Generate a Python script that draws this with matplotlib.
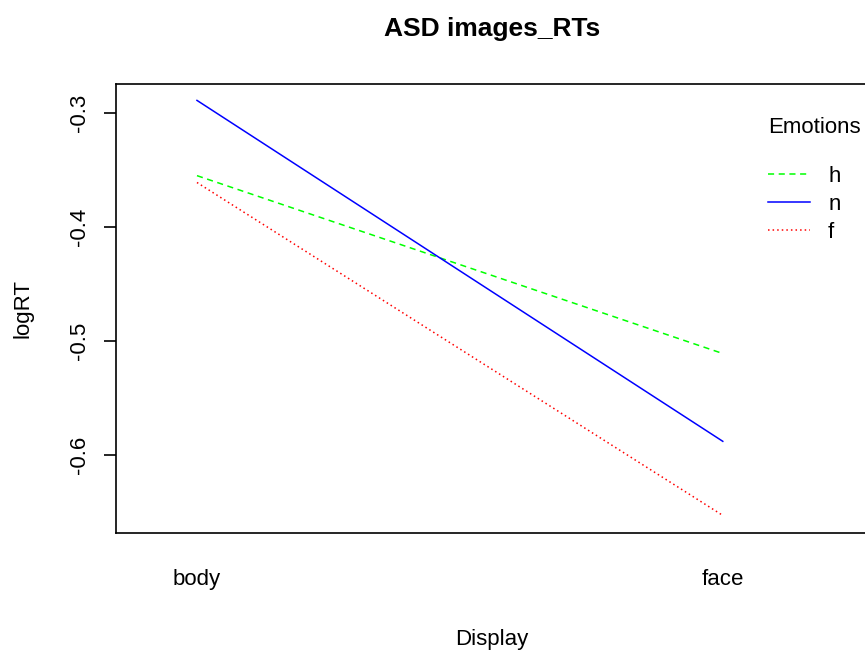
import matplotlib
matplotlib.use('Agg')
import matplotlib.pyplot as plt

plt.rcParams['font.family'] = ['Liberation Sans', 'DejaVu Sans']

# data (mean logRT per display type)
displays = ['body', 'face']
emotions = ['h', 'n', 'f']
logrt_h = [-0.355, -0.511]
logrt_n = [-0.289, -0.588]
logrt_f = [-0.361, -0.653]

colors = {'h': '#00ff00', 'n': '#0000ff', 'f': '#ff0000'}
styles = {'h': (0, (4, 3)), 'n': '-', 'f': (0, (1, 2))}
values = {'h': logrt_h, 'n': logrt_n, 'f': logrt_f}

fig = plt.figure(figsize=(8.65, 6.56), dpi=100)
ax = fig.add_axes([0.1341, 0.1875, 0.8717, 0.6845])

x = [1, 2]
for e in emotions:
    ax.plot(x, values[e], color=colors[e], linestyle=styles[e], linewidth=1.1, label=e)

ax.set_xlim(0.846, 2.28)
ax.set_ylim(-0.6684, -0.2746)

ax.set_xticks(x)
ax.set_xticklabels(displays, fontsize=16)
ax.tick_params(axis='x', length=0, pad=26)
ax.set_yticks([-0.3, -0.4, -0.5, -0.6])
ax.set_yticklabels(['-0.3', '-0.4', '-0.5', '-0.6'], rotation=90, va='center', fontsize=16)
ax.tick_params(axis='y', length=9, width=1.2, pad=10)

for s in ax.spines.values():
    s.set_linewidth(1.2)

ax.set_xlabel('Display', fontsize=16)
ax.set_ylabel('logRT', fontsize=16)
ax.xaxis.set_label_coords(0.498, -0.214)
ax.yaxis.set_label_coords(-0.110, 0.5)
fig.text(0.569, 0.956, 'ASD images_RTs', ha='center', va='center', fontsize=19, fontweight='bold')

# legend
fig.text(0.888, 0.806, 'Emotions', ha='left', va='center', fontsize=16)
leg = ax.legend(loc='upper left', bbox_to_anchor=(0.888, 0.747),
                bbox_transform=fig.transFigure, frameon=False, fontsize=16,
                handlelength=1.9, handletextpad=0.8,
                labelspacing=0.31, borderpad=0, borderaxespad=0)

fig.savefig('out.png', dpi=100)
